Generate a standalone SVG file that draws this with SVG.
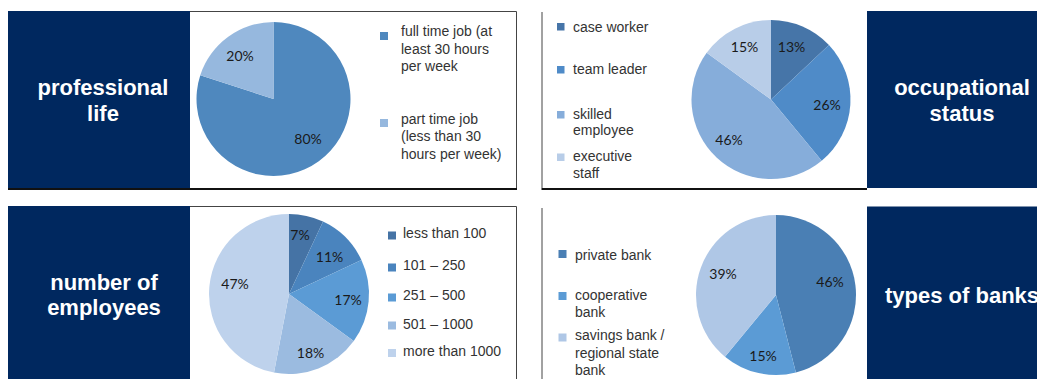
<svg xmlns="http://www.w3.org/2000/svg" width="1037" height="379" viewBox="0 0 1037 379">
<style>
.navy{fill:#00285F}
.title{font-family:"Liberation Sans",Arial,sans-serif;font-weight:bold;font-size:22px;fill:#fff}
.leg{font-family:"Liberation Sans",Arial,sans-serif;font-size:14px;fill:#333}
.pct{font-family:Lato,"Liberation Sans",sans-serif;font-size:14px;fill:#1a1a1a;text-anchor:middle}
.thin{stroke:#444;stroke-width:1;fill:none}
.thick{stroke:#111;stroke-width:2;fill:none}
</style>
<rect width="1037" height="379" fill="#fff"/>

<g id="professional-life">
<rect class="navy" x="8" y="11" width="182" height="177"/>
<text class="title" text-anchor="middle"><tspan x="103" y="95">professional</tspan><tspan x="103" y="121">life</tspan></text>
<path class="thin" d="M190,11.5 H516.5 V188"/>
<path class="thick" d="M8,189 H517"/>
<path d="M273.5,99 L273.5,22 A77,77 0 1 1 200.27,75.21 Z" fill="#4F88BE"/>
<path d="M273.5,99 L200.27,75.21 A77,77 0 0 1 273.5,22 Z" fill="#96B8DE"/>
<text class="pct" x="240" y="61">20%</text>
<text class="pct" x="308" y="144">80%</text>
<rect x="380" y="32" width="8" height="8" fill="#4F88BE"/>
<text class="leg"><tspan x="401" y="36">full time job (at</tspan><tspan x="401" y="53.5">least 30 hours</tspan><tspan x="401" y="71">per week</tspan></text>
<rect x="380" y="119" width="8" height="8" fill="#96B8DE"/>
<text class="leg"><tspan x="401" y="123.5">part time job</tspan><tspan x="401" y="141">(less than 30</tspan><tspan x="401" y="158.5">hours per week)</tspan></text>
</g>

<g id="occupational-status">
<rect class="navy" x="867" y="11" width="170" height="177"/>
<text class="title" text-anchor="middle"><tspan x="962" y="95">occupational</tspan><tspan x="962" y="121">status</tspan></text>
<path class="thin" d="M542,12 V188"/>
<path class="thick" d="M541.5,189 H867"/>
<path d="M771,99.5 L771,20 A79.5,79.5 0 0 1 828.96,45.08 Z" fill="#4675A8"/>
<path d="M771,99.5 L828.96,45.08 A79.5,79.5 0 0 1 821.67,160.76 Z" fill="#4F8BC8"/>
<path d="M771,99.5 L821.67,160.76 A79.5,79.5 0 0 1 706.68,52.77 Z" fill="#86ADDA"/>
<path d="M771,99.5 L706.68,52.77 A79.5,79.5 0 0 1 771,20 Z" fill="#B8CDE8"/>
<text class="pct" x="791.5" y="52">13%</text>
<text class="pct" x="827" y="110">26%</text>
<text class="pct" x="729" y="144.5">46%</text>
<text class="pct" x="744.5" y="52">15%</text>
<rect x="557" y="23" width="7.5" height="7.5" fill="#4675A8"/>
<text class="leg" x="573" y="32">case worker</text>
<rect x="557" y="66" width="7.5" height="7.5" fill="#4F8BC8"/>
<text class="leg" x="573" y="74">team leader</text>
<rect x="557" y="111" width="7.5" height="7.5" fill="#86ADDA"/>
<text class="leg"><tspan x="573" y="118.5">skilled</tspan><tspan x="573" y="135">employee</tspan></text>
<rect x="557" y="153.5" width="7.5" height="7.5" fill="#B8CDE8"/>
<text class="leg"><tspan x="573" y="161">executive</tspan><tspan x="573" y="177.5">staff</tspan></text>
</g>

<g id="number-of-employees">
<rect class="navy" x="8" y="206" width="182" height="173"/>
<text class="title" text-anchor="middle"><tspan x="104" y="289.5">number of</tspan><tspan x="104" y="315">employees</tspan></text>
<path class="thin" d="M190,206.5 H516.5 V379"/>
<path d="M289,294 L289,214 A80,80 0 0 1 323.06,221.62 Z" fill="#4573A5"/>
<path d="M289,294 L323.06,221.62 A80,80 0 0 1 361.38,259.94 Z" fill="#4A84BE"/>
<path d="M289,294 L361.38,259.94 A80,80 0 0 1 353.72,341.02 Z" fill="#5B9BD5"/>
<path d="M289,294 L353.72,341.02 A80,80 0 0 1 274.01,372.58 Z" fill="#9BBBE0"/>
<path d="M289,294 L274.01,372.58 A80,80 0 0 1 289,214 Z" fill="#BED2EC"/>
<text class="pct" x="300" y="239.5">7%</text>
<text class="pct" x="329.5" y="262">11%</text>
<text class="pct" x="348" y="304.5">17%</text>
<text class="pct" x="310.5" y="357.5">18%</text>
<text class="pct" x="235" y="288.5">47%</text>
<rect x="388" y="231.5" width="8" height="8" fill="#4573A5"/>
<text class="leg" x="403" y="238">less than 100</text>
<rect x="388" y="263.5" width="8" height="8" fill="#4A84BE"/>
<text class="leg" x="403" y="269.5">101 – 250</text>
<rect x="388" y="293.5" width="8" height="8" fill="#5B9BD5"/>
<text class="leg" x="403" y="300">251 – 500</text>
<rect x="388" y="321.5" width="8" height="8" fill="#9BBBE0"/>
<text class="leg" x="403" y="328.5">501 – 1000</text>
<rect x="388" y="349" width="8" height="8" fill="#BED2EC"/>
<text class="leg" x="403" y="356">more than 1000</text>
</g>

<g id="types-of-banks">
<rect class="navy" x="867" y="206.5" width="170" height="172.5"/>
<text class="title" x="885" y="302.5">types of banks</text>
<path class="thin" d="M542,208 V379"/>
<path d="M776,295 L776,215 A80,80 0 0 1 795.9,372.49 Z" fill="#4A7FB4"/>
<path d="M776,295 L795.9,372.49 A80,80 0 0 1 725.01,356.64 Z" fill="#5B9BD5"/>
<path d="M776,295 L725.01,356.64 A80,80 0 0 1 776,215 Z" fill="#AFC7E6"/>
<text class="pct" x="830" y="287">46%</text>
<text class="pct" x="763" y="361">15%</text>
<text class="pct" x="723" y="278.5">39%</text>
<rect x="558.5" y="250" width="8" height="8" fill="#4A7FB4"/>
<text class="leg" x="575" y="259.5">private bank</text>
<rect x="558.5" y="292" width="8" height="8" fill="#5B9BD5"/>
<text class="leg"><tspan x="575" y="300">cooperative</tspan><tspan x="575" y="316.5">bank</tspan></text>
<rect x="558.5" y="333.5" width="8" height="8" fill="#AFC7E6"/>
<text class="leg"><tspan x="575" y="340">savings bank /</tspan><tspan x="575" y="358">regional state</tspan><tspan x="575" y="374.5">bank</tspan></text>
</g>
</svg>
